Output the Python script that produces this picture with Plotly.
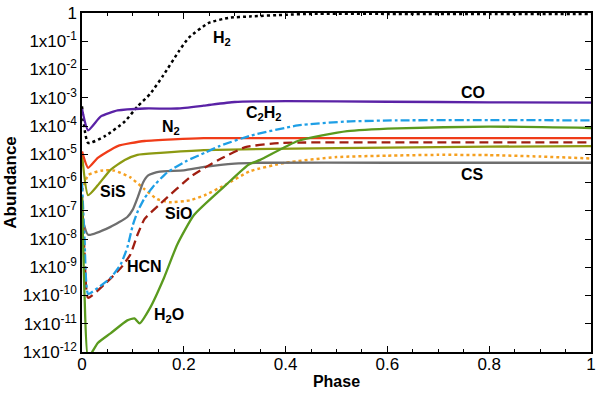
import plotly.graph_objects as go

# phase / log10(abundance) pairs
h2_phase = [0.0, 0.012, 0.045, 0.084, 0.109, 0.134, 0.16, 0.19, 0.21, 0.249, 0.288, 0.33, 0.4, 0.45, 0.6, 0.8, 1.0]
h2_log = [-3.3, -4.6, -4.36, -3.84, -3.31, -2.86, -2.2, -1.36, -0.87, -0.35, -0.17, -0.12, -0.06, -0.03, -0.03, -0.03, -0.03]

co_phase = [0.0, 0.012, 0.037, 0.07, 0.123, 0.187, 0.239, 0.3, 0.4, 0.6, 0.8, 1.0]
co_log = [-3.4, -4.15, -3.66, -3.45, -3.38, -3.38, -3.28, -3.15, -3.12, -3.14, -3.16, -3.17]

n2_phase = [0.0, 0.012, 0.031, 0.07, 0.123, 0.239, 0.4, 0.6, 0.8, 1.0]
n2_log = [-4.9, -5.48, -5.13, -4.71, -4.53, -4.43, -4.43, -4.43, -4.43, -4.43]

sis_phase = [0.0, 0.012, 0.031, 0.056, 0.084, 0.109, 0.154, 0.239, 0.5, 0.8, 1.0]
sis_log = [-5.0, -6.45, -6.1, -5.55, -5.2, -5.02, -4.95, -4.85, -4.78, -4.73, -4.71]

sio_phase = [0.0, 0.012, 0.037, 0.064, 0.095, 0.123, 0.148, 0.173, 0.212, 0.241, 0.28, 0.33, 0.4, 0.5, 0.6, 0.7, 0.8, 0.9, 1.0]
sio_log = [-6.3, -5.74, -5.58, -5.58, -5.82, -6.24, -6.59, -6.7, -6.63, -6.45, -6.1, -5.6, -5.3, -5.1, -5.05, -5.02, -5.03, -5.08, -5.15]

cs_phase = [0.0, 0.012, 0.056, 0.089, 0.1, 0.11, 0.12, 0.13, 0.15, 0.2, 0.24, 0.3, 0.35, 0.6, 1.0]
cs_log = [-7.2, -7.85, -7.57, -7.22, -6.95, -6.5, -6.0, -5.75, -5.62, -5.57, -5.45, -5.33, -5.3, -5.3, -5.3]

c2h2_phase = [0.0, 0.005, 0.012, 0.031, 0.056, 0.076, 0.089, 0.1, 0.11, 0.123, 0.142, 0.167, 0.206, 0.241, 0.27, 0.333, 0.424, 0.521, 0.619, 0.8, 1.0]
c2h2_log = [-6.0, -8.0, -9.94, -9.73, -9.38, -8.9, -8.3, -7.5, -7.0, -6.55, -6.1, -5.65, -5.23, -4.95, -4.71, -4.33, -3.98, -3.84, -3.8, -3.79, -3.8]

hcn_phase = [0.0, 0.005, 0.012, 0.045, 0.076, 0.095, 0.109, 0.123, 0.154, 0.216, 0.268, 0.321, 0.391, 0.6, 1.0]
hcn_log = [-6.5, -8.5, -10.08, -9.59, -9.03, -8.55, -7.85, -7.29, -6.75, -5.76, -5.2, -4.75, -4.6, -4.58, -4.58]

h2o_phase = [0.0, 0.005, 0.012, 0.031, 0.056, 0.089, 0.103, 0.113, 0.134, 0.161, 0.187, 0.22, 0.282, 0.327, 0.35, 0.424, 0.521, 0.619, 0.8, 1.0]
h2o_log = [-6.5, -10.0, -12.2, -11.68, -11.34, -10.88, -10.81, -10.99, -10.43, -9.38, -8.2, -7.15, -6.1, -5.37, -5.2, -4.53, -4.18, -4.08, -4.02, -4.07]

# label text and position (phase, log10 abundance)
label_text = ["H<sub>2</sub>", "CO", "C<sub>2</sub>H<sub>2</sub>", "N<sub>2</sub>", "SiS",
              "SiO", "HCN", "CS", "H<sub>2</sub>O"]
label_x = [0.276, 0.768, 0.358, 0.175, 0.06, 0.19, 0.122, 0.768, 0.171]
label_y = [-0.91, -2.83, -3.56, -4.05, -6.31, -7.1, -8.96, -5.72, -10.7]

ytick_vals = [1e-12, 1e-11, 1e-10, 1e-9, 1e-8, 1e-7, 1e-6, 1e-5, 1e-4, 1e-3, 1e-2, 1e-1, 1]
ytick_text = ["1x10<sup>-%d</sup>" % n for n in range(12, 0, -1)] + ["1"]

series = [
    (h2_phase, h2_log, "#000000", "dot", 2.5),
    (sio_phase, sio_log, "#f5a020", "dot", 2.5),
    (cs_phase, cs_log, "#6e6e6e", "solid", 2.3),
    (sis_phase, sis_log, "#8c9a12", "solid", 2.3),
    (n2_phase, n2_log, "#f03c18", "solid", 2.3),
    (hcn_phase, hcn_log, "#a01e10", "9px,5px", 2.3),
    (c2h2_phase, c2h2_log, "#1e9fe6", "dashdot", 2.3),
    (h2o_phase, h2o_log, "#5a9a1e", "solid", 2.3),
    (co_phase, co_log, "#5a22a6", "solid", 2.3),
]

fig = go.Figure()

for xs, logs, color, dash, width in series:
    fig.add_trace(go.Scatter(
        x=xs,
        y=[10 ** v for v in logs],
        mode="lines",
        line=dict(color=color, dash=dash, width=width, shape="spline", smoothing=0.5),
        showlegend=False,
    ))

for text, lx, ly in zip(label_text, label_x, label_y):
    fig.add_annotation(
        x=lx, y=ly, text="<b>%s</b>" % text, showarrow=False,
        font=dict(size=16, color="black"),
    )

font_family = "Liberation Sans, Arial, sans-serif"

fig.update_layout(
    width=600,
    height=393,
    margin=dict(l=82, r=4, t=8, b=41),
    plot_bgcolor="white",
    paper_bgcolor="white",
    font=dict(family=font_family, size=16, color="black"),
    xaxis=dict(
        range=[0, 1],
        tickvals=[0, 0.2, 0.4, 0.6, 0.8, 1],
        ticktext=["0", "0.2", "0.4", "0.6", "0.8", "1"],
        ticks="inside", ticklen=6, tickcolor="black",
        ticklabelstandoff=-4,
        minor=dict(ticks="inside", ticklen=3, dtick=0.05, tickcolor="black"),
        showline=True, linecolor="black", linewidth=1.5, mirror="allticks",
        showgrid=False, zeroline=False,
        title=dict(text="<b>Phase</b>", font=dict(size=16), standoff=3),
        tickfont=dict(size=17),
    ),
    yaxis=dict(
        type="log",
        range=[-12, 0.001],
        tickvals=ytick_vals,
        ticktext=ytick_text,
        ticks="inside", ticklen=6, tickcolor="black",
        ticklabeloverflow="allow",
        minor=dict(ticks="inside", ticklen=3, tickcolor="black"),
        showline=True, linecolor="black", linewidth=1.5, mirror="allticks",
        showgrid=False, zeroline=False,
        title=dict(text="<b>Abundance</b>", font=dict(size=17), standoff=2),
        tickfont=dict(size=17),
    ),
)

fig.write_html("out.html", config={"displayModeBar": False},
               post_script="document.body.style.margin='0';")
